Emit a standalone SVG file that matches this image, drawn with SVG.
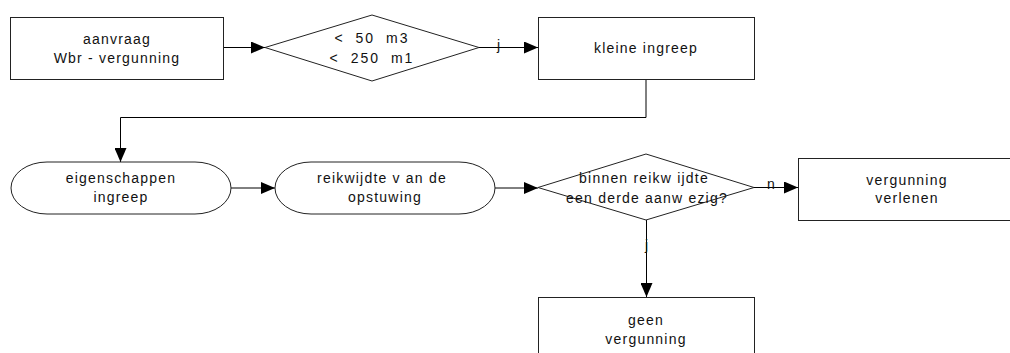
<svg xmlns="http://www.w3.org/2000/svg" width="1010" height="353" viewBox="0 0 1010 353">
<style>
.s{fill:#fff;stroke:#222;stroke-width:1}
.c{fill:none;stroke:#000;stroke-width:1}
text{font-family:"Liberation Sans",Arial,sans-serif;font-size:14px;fill:#111;letter-spacing:1.2px;text-anchor:middle}
.w{letter-spacing:2px;word-spacing:5px}
.l{text-anchor:start;letter-spacing:0}
</style>
<defs>
<marker id="a" markerUnits="userSpaceOnUse" markerWidth="14" markerHeight="12" refX="14" refY="6" orient="auto">
<path d="M0,0 L14,6 L0,12 z" fill="#000"/>
</marker>
</defs>
<rect width="1010" height="353" fill="#fff"/>
<g id="connectors">
<path class="c" d="M223,47.5 H265" marker-end="url(#a)"/>
<path class="c" d="M479,47.5 H538" marker-end="url(#a)"/>
<path class="c" d="M646,79 V117.5 H120.5 V162" marker-end="url(#a)"/>
<path class="c" d="M231,188 H275" marker-end="url(#a)"/>
<path class="c" d="M495,188 H538" marker-end="url(#a)"/>
<path class="c" d="M754,187.5 H798" marker-end="url(#a)"/>
<path class="c" d="M646.5,220 V297" marker-end="url(#a)"/>
<text class="l" x="497" y="50">j</text>
<text class="l" x="767" y="189">n</text>
<text class="l" x="645" y="250">j</text>
</g>
<g id="n1">
<rect class="s" x="10.5" y="17.5" width="213" height="62"/>
<text x="117" y="44">aanvraag</text>
<text x="117" y="63">Wbr - vergunning</text>
</g>
<g id="n2">
<polygon class="s" points="265,47.5 372,15 479,47.5 372,81"/>
<text class="w" x="372" y="43">&lt; 50 m3</text>
<text class="w" x="372" y="63">&lt; 250 m1</text>
</g>
<g id="n3">
<rect class="s" x="538.5" y="17.5" width="216" height="62"/>
<text x="646" y="53">kleine ingreep</text>
</g>
<g id="n4">
<rect class="s" x="11" y="162" width="220" height="52" rx="36" ry="26"/>
<text x="121" y="183">eigenschappen</text>
<text x="121" y="202">ingreep</text>
</g>
<g id="n5">
<rect class="s" x="275" y="162" width="220" height="52" rx="36" ry="26"/>
<text x="382" y="183">reikwijdte v an de</text>
<text x="385" y="202">opstuwing</text>
</g>
<g id="n6">
<polygon class="s" points="538,187.5 646,154 754,187.5 646,220"/>
<text x="644" y="183">binnen reikw ijdte</text>
<text x="647" y="203">een derde aanw ezig?</text>
</g>
<g id="n7">
<rect class="s" x="798.5" y="158.5" width="217" height="62"/>
<text x="907" y="185">vergunning</text>
<text x="907" y="203">verlenen</text>
</g>
<g id="n8">
<rect class="s" x="538.5" y="297.5" width="216" height="62"/>
<text x="646" y="325">geen</text>
<text x="646" y="344">vergunning</text>
</g>
</svg>
